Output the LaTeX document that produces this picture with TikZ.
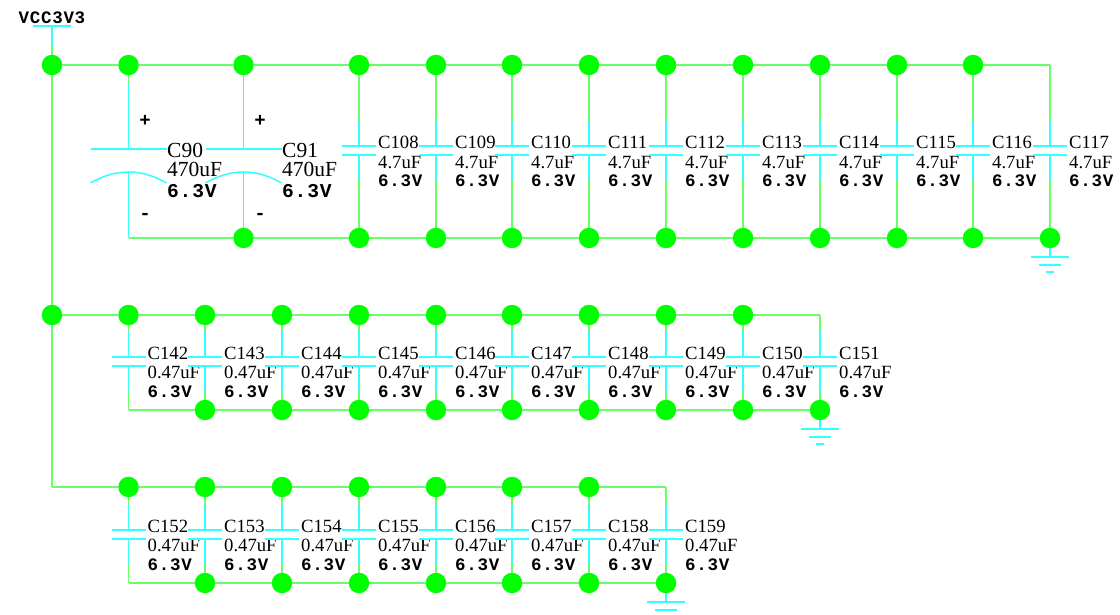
\documentclass[tikz,border=0pt]{standalone}
\usepackage{fontspec}
\setmainfont{Liberation Serif}
\newfontfamily\voltfont[LetterSpace=4]{Liberation Mono}
\definecolor{wiregreen}{HTML}{66FF66}
\definecolor{pincyan}{HTML}{33FFFF}
\tikzset {
    x=1pt,
    y=-1pt,
    junction/.style={circle, fill=green, inner sep=0pt, minimum size=20.5pt},
    wire/.style={draw=wiregreen, line width=1.6pt},
    pin/.style={draw=pincyan, line width=1.5pt},
    capref/.style={anchor=base west, inner sep=0pt, font=\fontsize{18.67}{20}\selectfont},
    polarref/.style={anchor=base west, inner sep=0pt, font=\fontsize{21.5}{23}\selectfont},
    capvolt/.style={anchor=base west, inner sep=0pt, font=\voltfont\bfseries\fontsize{17.5}{20}\selectfont},
    polarvolt/.style={anchor=base west, inner sep=0pt, font=\voltfont\bfseries\fontsize{19.6}{23}\selectfont},
    sign/.style={inner sep=0pt, font=\voltfont\bfseries\fontsize{19}{21}\selectfont}
}
% plain capacitor: ref, x, y of upper plate, value, baseline of first label
\newcommand{\capcell}[5]{
    \coordinate (pla#1) at (#2,#3);
    \coordinate (plb#1) at (#2,#3+9);
    \coordinate (pina#1) at (#2,#3-25);
    \coordinate (pinb#1) at (#2,#3+34);
    \draw[pin] (#2-17,#3) -- (#2+17,#3);
    \draw[pin] (#2-17,#3+9) -- (#2+17,#3+9);
    \draw[wire] (top#1) -- (pina#1);
    \draw[pin] (pina#1) -- (pla#1);
    \draw[pin] (plb#1) -- (pinb#1);
    \draw[wire] (pinb#1) -- (bot#1);
    \node[capref] (ref#1) at (#2+19,#5) {C#1};
    \node[capref] (val#1) at (#2+19,#5+19) {#4};
    \node[capvolt] (volt#1) at (#2+19,#5+38) {6.3V};
}
% ground symbol under a junction
\newcommand{\gndsym}[3]{
    \coordinate (gnd#1) at (#2,#3+19);
    \draw[pin] (#1) -- (gnd#1);
    \draw[pin] (#2-19,#3+19) -- (#2+19,#3+19);
    \draw[pin] (#2-11,#3+27) -- (#2+11,#3+27);
}
\begin{document}
\begin{tikzpicture}
    \useasboundingbox (0,0) rectangle (1120,615);

    % supply
    \node[capvolt, anchor=base] (vcclabel) at (52,24) {VCC3V3};
    \node[junction] (vcctop) at (52,65) {};
    \node[junction] (vccmid) at (52,315) {};
    \coordinate (vcclow) at (52,487);
    \coordinate (vccbar) at (52,26);
    \coordinate (vccpin) at (52,46);
    \draw[pin] (33,26) -- (71,26);
    \draw[pin] (vccbar) -- (vccpin);
    \draw[wire] (vccpin) -- (vcctop);
    \draw[wire] (vcctop) -- (vccmid);
    \draw[wire] (vccmid) -- (vcclow);

    % first row
    \node[junction] (top90) at (128.5,65) {};
    \node[junction] (top91) at (243.5,65) {};
    \coordinate (bot90) at (128.5,238);
    \node[junction] (bot91) at (243.5,238) {};
    \foreach \r/\x in {108/359,109/436,110/512,111/589,112/666,113/743,114/820,115/897,116/973}
        \node[junction] (top\r) at (\x,65) {};
    \foreach \r/\x in {108/359,109/436,110/512,111/589,112/666,113/743,114/820,115/897,116/973,117/1050}
        \node[junction] (bot\r) at (\x,238) {};
    \coordinate (top117) at (1050,65);

    \foreach \r/\x in {90/128.5,91/243.5} {
        \coordinate (pina\r) at (\x,84);
        \coordinate (pla\r) at (\x,149);
        \coordinate (plb\r) at (\x,172);
        \draw[wire] (top\r) -- (pina\r);
        \draw[pin] (pina\r) -- (pla\r);
        \draw[pin] (\x-38,149) -- (\x+38,149);
        \draw[pin] (\x-38,183) .. controls (\x-24,175) and (\x-12,172) .. (plb\r)
                   .. controls (\x+12,172) and (\x+24,175) .. (\x+38,183);
        \draw[pin] (plb\r) -- (bot\r);
        \node[sign] (plus\r) at (\x+16.5,120.5) {+};
        \node[sign] (minus\r) at (\x+16.5,216) {-};
        \node[polarref] (ref\r) at (\x+38.5,157.5) {C\r};
        \node[polarref] (val\r) at (\x+38.5,176.5) {470uF};
        \node[polarvolt] (volt\r) at (\x+38.5,197.5) {6.3V};
    }
    \foreach \r/\x in {108/359,109/436,110/512,111/589,112/666,113/743,114/820,115/897,116/973,117/1050}
        \capcell{\r}{\x}{146}{4.7uF}{149};

    \draw[wire] (vcctop) -- (top90);
    \draw[wire] (top90) -- (top91);
    \draw[wire] (top91) -- (top108);
    \draw[wire] (bot90) -- (bot91);
    \draw[wire] (bot91) -- (bot108);
    \foreach \r [remember=\r as \p (initially 108)] in {109,...,117} {
        \draw[wire] (top\p) -- (top\r);
        \draw[wire] (bot\p) -- (bot\r);
    }
    \gndsym{bot117}{1050}{238}
    \draw[pin] (1046,272) -- (1054,272);

    % second row
    \foreach \r/\x in {142/128.5,143/205,144/282,145/359,146/436,147/512,148/589,149/666,150/743}
        \node[junction] (top\r) at (\x,315) {};
    \foreach \r/\x in {143/205,144/282,145/359,146/436,147/512,148/589,149/666,150/743,151/820}
        \node[junction] (bot\r) at (\x,410) {};
    \coordinate (top151) at (820,315);
    \coordinate (bot142) at (128.5,410);
    \foreach \r/\x in {142/128.5,143/205,144/282,145/359,146/436,147/512,148/589,149/666,150/743,151/820}
        \capcell{\r}{\x}{357}{0.47uF}{359};

    \draw[wire] (vccmid) -- (top142);
    \foreach \r [remember=\r as \p (initially 142)] in {143,...,151} {
        \draw[wire] (top\p) -- (top\r);
        \draw[wire] (bot\p) -- (bot\r);
    }
    \gndsym{bot151}{820}{410}
    \draw[pin] (816,444) -- (824,444);

    % third row
    \foreach \r/\x in {152/128.5,153/205,154/282,155/359,156/436,157/512,158/589}
        \node[junction] (top\r) at (\x,487) {};
    \foreach \r/\x in {153/205,154/282,155/359,156/436,157/512,158/589,159/666}
        \node[junction] (bot\r) at (\x,583) {};
    \coordinate (top159) at (666,487);
    \coordinate (bot152) at (128.5,583);
    \foreach \r/\x in {152/128.5,153/205,154/282,155/359,156/436,157/512,158/589,159/666}
        \capcell{\r}{\x}{530}{0.47uF}{532};

    \draw[wire] (vcclow) -- (top152);
    \foreach \r [remember=\r as \p (initially 152)] in {153,...,159} {
        \draw[wire] (top\p) -- (top\r);
        \draw[wire] (bot\p) -- (bot\r);
    }
    \gndsym{bot159}{666}{583}
\end{tikzpicture}
\end{document}
